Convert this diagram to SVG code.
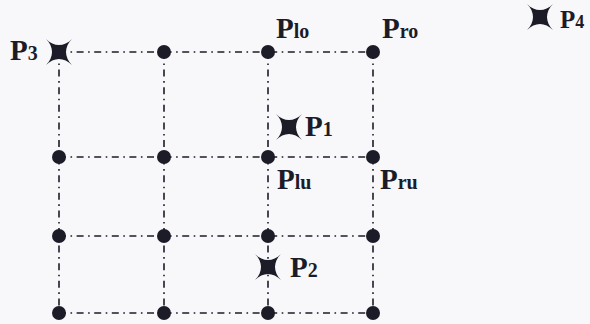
<svg xmlns="http://www.w3.org/2000/svg" width="590" height="324" viewBox="0 0 590 324">
<style>
.ln{stroke:#1c1c28;stroke-width:1.6;stroke-dasharray:7 4.5 1.6 4.5;fill:none}
.dot{fill:#1c1c28}
.star{fill:#1c1c28}
.lb{font-family:"Liberation Serif","Times New Roman",serif;font-weight:bold;font-size:29px;fill:#1c1c28}
.sb{font-size:20px}
</style>
<defs>
<path id="st" d="M-13,-13 C-5,-5 5,-5 13,-13 C5,-5 5,5 13,13 C5,5 -5,5 -13,13 C-5,5 -5,-5 -13,-13 Z"/>
</defs>
<rect width="590" height="324" fill="#f8f8fa"/>
<g id="connectors">
<line class="ln" x1="59" y1="52" x2="373" y2="52"/>
<line class="ln" x1="59" y1="157" x2="373" y2="157"/>
<line class="ln" x1="59" y1="236" x2="373" y2="236"/>
<line class="ln" x1="59" y1="313" x2="373" y2="313"/>
<line class="ln" x1="59" y1="52" x2="59" y2="313"/>
<line class="ln" x1="164" y1="52" x2="164" y2="313"/>
<line class="ln" x1="268" y1="52" x2="268" y2="313"/>
<line class="ln" x1="373" y1="52" x2="373" y2="313"/>
</g>
<g id="grid-dots">
<circle class="dot" cx="164" cy="52" r="7"/>
<circle class="dot" cx="373" cy="52" r="7"/>
<circle class="dot" cx="59" cy="157" r="7"/>
<circle class="dot" cx="164" cy="157" r="7"/>
<circle class="dot" cx="373" cy="157" r="7"/>
<circle class="dot" cx="59" cy="236" r="7"/>
<circle class="dot" cx="164" cy="236" r="7"/>
<circle class="dot" cx="268" cy="236" r="7"/>
<circle class="dot" cx="373" cy="236" r="7"/>
<circle class="dot" cx="59" cy="313" r="7"/>
<circle class="dot" cx="164" cy="313" r="7"/>
<circle class="dot" cx="268" cy="313" r="7"/>
<circle class="dot" cx="373" cy="313" r="7"/>
</g>
<g id="Plo"><circle class="dot" cx="268" cy="52" r="7"/><text class="lb" x="276" y="38">P<tspan class="sb">lo</tspan></text></g>
<g id="Pro"><text class="lb" x="382" y="38">P<tspan class="sb">ro</tspan></text></g>
<g id="Plu"><circle class="dot" cx="268" cy="157" r="7"/><text class="lb" x="277" y="189">P<tspan class="sb">lu</tspan></text></g>
<g id="Pru"><text class="lb" x="380" y="189">P<tspan class="sb">ru</tspan></text></g>
<g id="P3"><use href="#st" class="star" x="59" y="52"/><text class="lb" x="10" y="60">P<tspan class="sb">3</tspan></text></g>
<g id="P1"><use href="#st" class="star" x="289" y="127"/><text class="lb" x="305" y="136">P<tspan class="sb">1</tspan></text></g>
<g id="P2"><use href="#st" class="star" x="268" y="267"/><text class="lb" x="290" y="277">P<tspan class="sb">2</tspan></text></g>
<g id="P4"><use href="#st" class="star" x="540" y="17"/><text class="lb" x="560" y="28" style="font-size:25px">P<tspan style="font-size:18px">4</tspan></text></g>
</svg>
